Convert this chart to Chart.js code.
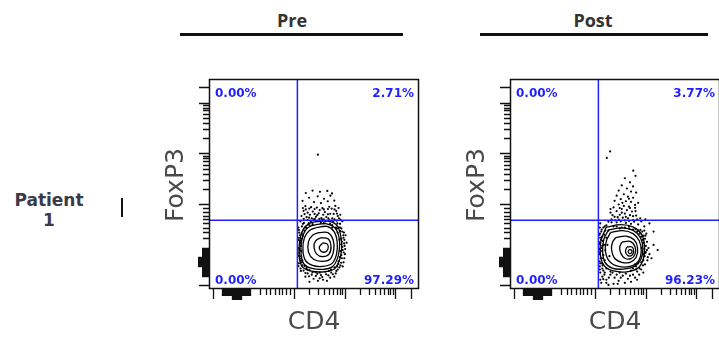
<!DOCTYPE html>
<html lang="en">
  <head>
    <meta charset="UTF-8" />
    <meta name="viewport" content="width=device-width, initial-scale=1.0" />
    <title>CD4 / FoxP3 - Patient 1</title>
    <style>
      body {
        margin: 0;
        width: 719px;
        height: 341px;
        overflow: hidden;
        position: relative;
        background: #fff;
      }
      .head {
        position: absolute;
        top: 8px;
        width: 100px;
        text-align: center;
        font: 700 18px "Open Sans", sans-serif;
        color: #333;
      }
      .rule {
        position: absolute;
        top: 33px;
        height: 3px;
        background: #111;
      }
      .row {
        position: absolute;
        left: 9px;
        top: 190px;
        width: 80px;
        text-align: center;
        font: 700 17px/20px "DejaVu Sans", sans-serif;
        color: #3a3a4a;
      }
      .bar {
        position: absolute;
        left: 121px;
        top: 198px;
        width: 2px;
        height: 19px;
        background: #111;
      }
      canvas {
        position: absolute;
        top: 60px;
      }
    </style>
  </head>
  <body>
    <div class="head" style="left: 242px">Pre</div>
    <div class="rule" style="left: 180px; width: 223px"></div>
    <div class="head" style="left: 543px">Post</div>
    <div class="rule" style="left: 480px; width: 228px"></div>
    <div class="row">Patient<br />1</div>
    <div class="bar"></div>
    <canvas id="pre" width="280" height="281" style="left: 150px"></canvas>
    <canvas id="post" width="280" height="281" style="left: 451px"></canvas>

    <script src="https://cdn.jsdelivr.net/npm/chart.js"></script>
    <script>
      // channel scale (0-1024) shared by CD4 and FoxP3
      const gateX = 431;
      const gateY = 335;

      // quadrant frequencies: UL, UR, LL, LR
      const quadPre = ["0.00%", "2.71%", "0.00%", "97.29%"];
      const quadPost = ["0.00%", "3.77%", "0.00%", "96.23%"];

      // biexponential tick marks, in channels
      const majorTicks = [20, 414, 662, 909, 985];
      const minorTicks = [
        247, 276, 299, 320, 340, 358, 377, 394,
        489, 532, 563, 587, 607, 623, 638, 650,
        736, 780, 810, 834, 854, 871, 885, 897,
      ];
      const zeroTicks = [
        62, 66, 70, 74, 78, 82, 86, 90, 94, 98, 102, 106,
        162, 166, 170, 174, 178, 182, 186, 190, 194, 198,
      ];
      const zeroTicksLong = [110, 114, 118, 122, 126, 130, 134, 138, 142, 146, 150, 154, 158];

      const contoursPre = [
        [[520,328],[575,332],[622,312],[642,262],[647,200],[636,140],[611,98],[560,84],[500,87],[455,108],[440,160],[442,232],[460,292],[490,320]],
        [[522,314],[574,318],[614,298],[634,252],[636,196],[624,142],[601,108],[557,96],[503,100],[463,122],[449,170],[452,238],[469,285],[494,306]],
        [[525,300],[575,305],[610,280],[625,230],[622,170],[600,125],[555,110],[505,115],[470,140],[458,190],[465,250],[490,285]],
        [[535,275],[580,275],[605,240],[608,190],[590,145],[550,135],[510,145],[485,180],[485,230],[505,262]],
        [[545,250],[580,245],[595,210],[585,170],[555,158],[525,170],[512,205],[520,235]],
        [[555,225],[578,218],[580,195],[565,180],[545,185],[538,205]],
      ];
      const dotsPre = [
        [531,655],
        [472,468],[505,480],[541,474],[577,478],[600,466],[488,445],[530,452],[561,440],[592,455],[456,430],
        [512,424],[546,419],[579,428],[611,431],[470,404],[498,399],[526,397],[553,394],[586,401],[616,405],
        [461,381],[481,372],[506,378],[535,369],[565,375],[591,367],[620,381],[451,356],[476,350],[501,345],
        [521,352],[548,346],[572,351],[601,344],[628,356],[641,338],
        [446,330],[463,322],[481,336],[496,328],[516,341],[533,332],[551,338],[569,330],[586,336],[606,328],
        [623,333],[639,318],[453,305],[471,300],[601,312],[619,300],[646,295],
        [650,280],[656,250],[648,230],[661,210],[652,190],[663,170],[648,150],[656,130],[641,115],[666,262],[671,226],
        [436,300],[440,275],[438,250],[445,225],[437,200],[440,175],[443,150],[438,125],[446,100],[452,270],[450,185],
        [461,90],[481,76],[501,70],[521,64],[546,68],[571,72],[596,80],[621,88],[636,105],[470,60],
        [510,50],[556,45],[591,55],[490,35],[531,40],[611,60],
        [626,320],[601,300],[640,300],[658,275],[630,122],[595,95],[540,80],[480,95],[452,130],[448,210],
        [458,260],[476,298],[505,316],[560,321],
        [455,140],[450,160],[452,245],[465,285],[490,310],[545,322],[590,318],[625,295],[645,245],[650,205],
        [645,165],[632,135],[612,105],[585,88],[520,82],[490,92],[466,112],[448,235],[442,188],
        [458,395],[472,388],[489,392],[515,390],[540,385],[560,388],[580,390],[598,392],[612,388],[632,395],
        [466,365],[492,362],[515,366],[528,360],[557,362],[580,364],[608,366],[624,368],[640,362],[462,342],
        [488,348],[510,340],[538,342],[560,340],[582,344],[612,340],[634,345],[650,330],[458,318],[486,320],
        [627,275],[640,282],[655,262],[637,240],[660,240],[645,218],[664,195],[640,185],[657,178],[644,128],
        [660,150],[638,155],[652,110],[625,110],[659,222],[634,300],
        [438,288],[444,262],[436,238],[446,212],[438,162],[446,138],[436,112],[448,88],[442,195],[455,115],
        [470,78],[488,62],[505,82],[528,74],[552,58],[566,84],[582,66],[604,72],[618,76],[628,95],
        [475,102],[540,52],[575,40],
      ];

      const contoursPost = [
        [[470,302],[540,314],[602,302],[642,266],[656,210],[651,150],[626,104],[570,84],[505,88],[460,113],[440,170],[445,242]],
        [[480,288],[545,298],[601,286],[636,250],[648,198],[638,144],[606,110],[552,97],[498,102],[463,130],[452,180],[457,240]],
        [[490,275],[550,285],[600,270],[630,235],[640,185],[625,135],[585,110],[530,110],[485,135],[465,185],[470,235]],
        [[515,250],[565,258],[605,240],[622,200],[615,155],[585,130],[545,130],[510,150],[495,195],[500,228]],
        [[545,228],[585,232],[610,205],[610,170],[590,148],[560,150],[540,175],[535,205]],
        [[570,205],[595,205],[603,185],[595,165],[575,163],[563,183]],
        [[580,192],[592,190],[594,178],[583,173],[576,182]],
      ];
      const dotsPost = [
        [488,671],[472,639],[601,577],
        [612,552],[560,540],[585,520],[545,505],[600,500],[570,490],[530,480],[590,475],[615,470],[555,462],
        [520,455],[575,450],[600,445],[540,438],[510,430],[565,428],[590,425],[625,420],[530,412],[555,405],
        [580,402],[505,398],[610,396],[545,390],[570,385],[520,380],[595,378],[490,372],[560,368],[535,362],
        [585,360],[615,358],[510,352],[550,348],[575,345],[495,340],[530,338],[600,336],[640,330],[480,328],
        [520,325],[565,322],[590,318],[625,315],[470,310],[505,305],[545,300],[655,305],[680,320],[700,280],[660,340],
        [440,320],[455,300],[445,280],[460,265],[440,250],[452,235],[470,250],[438,220],[458,215],[446,200],
        [465,190],[440,180],[455,165],[442,150],[462,140],[448,125],[438,110],[470,100],[455,90],[440,80],
        [480,285],[475,215],[485,160],[436,265],[437,135],[450,100],[462,305],[436,195],
        [660,260],[668,230],[675,200],[662,180],[680,170],[670,140],[658,120],[690,150],[700,215],[720,190],[655,285],
        [450,60],[470,45],[490,70],[510,55],[530,40],[550,65],[575,50],[600,70],[620,85],[640,95],
        [505,25],[560,30],[620,45],[480,20],[440,45],[445,30],
        [615,110],[590,90],[535,80],[490,85],[650,170],[645,240],[625,285],[580,305],[520,305],
        [610,120],[625,125],[640,130],[650,140],[656,160],[660,175],[655,195],[662,210],[650,225],[658,245],
        [640,255],[632,270],[620,280],[612,292],[645,280],[665,270],[668,190],[672,155],[648,115],[632,100],
        [615,95],[600,100],[642,200],[646,180],[650,260],[636,288],[600,290],[580,295],[560,300],[535,295],
        [438,300],[447,290],[438,270],[450,255],[444,240],[437,228],[450,210],[443,185],[438,170],[450,150],
        [440,125],[452,115],[438,95],[462,80],[465,285],
        [495,325],[512,335],[540,330],[560,335],[580,332],[605,328],[620,340],[635,345],[500,360],[525,350],
        [545,372],[565,352],[600,355],[612,380],[490,390],[535,395],[585,395],[610,410],[548,420],[580,440],
        [460,70],[482,55],[500,80],[520,70],[540,55],[565,75],[585,65],[610,55],[630,70],[650,80],
        [525,25],[590,35],[470,30],[455,48],
      ];

      const GATE_BLUE = "#1f1fff";
      const toXY = (p) => ({ x: p[0], y: p[1] });

      function buildDatasets(dots, contours) {
        const ds = [
          {
            data: [{ x: gateX, y: 0 }, { x: gateX, y: 1024 }],
            showLine: true,
            borderColor: GATE_BLUE,
            borderWidth: 1.5,
            pointRadius: 0,
          },
          {
            data: [{ x: 0, y: gateY }, { x: 1024, y: gateY }],
            showLine: true,
            borderColor: GATE_BLUE,
            borderWidth: 1.5,
            pointRadius: 0,
          },
        ];
        contours.forEach((c) => {
          ds.push({
            data: c.concat([c[0]]).map(toXY),
            showLine: true,
            borderColor: "#000",
            borderWidth: 1.3,
            pointRadius: 0,
            tension: 0.35,
          });
        });
        ds.push({
          data: dots.map(toXY),
          pointRadius: 1.1,
          backgroundColor: "#000",
          borderWidth: 0,
        });
        return ds;
      }

      // frame, tick marks, quadrant numbers and axis titles
      const flowAxes = {
        id: "flowAxes",
        afterDraw(chart, args, opts) {
          const { ctx, chartArea: a } = chart;
          const xs = chart.scales.x;
          const ys = chart.scales.y;
          ctx.save();
          ctx.strokeStyle = "#111";
          ctx.lineWidth = 1.5;
          ctx.strokeRect(a.left + 0.5, a.top + 0.5, a.width - 1, a.height - 1);

          const tick = (v, len) => {
            const px = Math.round(xs.getPixelForValue(v)) + 0.5;
            ctx.moveTo(px, a.bottom);
            ctx.lineTo(px, a.bottom + len);
            const py = Math.round(ys.getPixelForValue(v)) + 0.5;
            ctx.moveTo(a.left, py);
            ctx.lineTo(a.left - len, py);
          };
          ctx.lineWidth = 1.3;
          ctx.beginPath();
          majorTicks.forEach((v) => tick(v, 10));
          minorTicks.forEach((v) => tick(v, 6));
          zeroTicks.forEach((v) => tick(v, 7));
          zeroTicksLong.forEach((v) => tick(v, 11));
          ctx.stroke();

          const q = opts.quads;
          ctx.fillStyle = GATE_BLUE;
          ctx.font = 'bold 12px "DejaVu Sans", sans-serif';
          ctx.textBaseline = "alphabetic";
          ctx.textAlign = "left";
          ctx.fillText(q[0], a.left + 6, a.top + 18);
          ctx.fillText(q[2], a.left + 6, a.bottom - 5);
          ctx.textAlign = "right";
          ctx.fillText(q[1], a.right - 5, a.top + 18);
          ctx.fillText(q[3], a.right - 5, a.bottom - 5);

          ctx.fillStyle = "#4a4a4a";
          ctx.font = '25px "DejaVu Sans", sans-serif';
          ctx.textAlign = "center";
          ctx.textBaseline = "middle";
          ctx.fillText("CD4", (a.left + a.right) / 2, a.bottom + 33);
          ctx.translate(a.left - 33, (a.top + a.bottom) / 2 + 1);
          ctx.rotate(-Math.PI / 2);
          ctx.fillText("FoxP3", 0, 0);
          ctx.restore();
        },
      };

      function makePlot(id, dots, contours, quads) {
        return new Chart(document.getElementById(id), {
          type: "scatter",
          data: { datasets: buildDatasets(dots, contours) },
          options: {
            responsive: false,
            animation: false,
            events: [],
            layout: { padding: { left: 59, top: 19, right: 11, bottom: 52 } },
            scales: {
              x: { type: "linear", min: 0, max: 1024, display: false },
              y: { type: "linear", min: 0, max: 1024, display: false },
            },
            plugins: {
              legend: { display: false },
              tooltip: { enabled: false },
              flowAxes: { quads: quads },
            },
          },
          plugins: [flowAxes],
        });
      }

      makePlot("pre", dotsPre, contoursPre, quadPre);
      makePlot("post", dotsPost, contoursPost, quadPost);
    </script>
  </body>
</html>
